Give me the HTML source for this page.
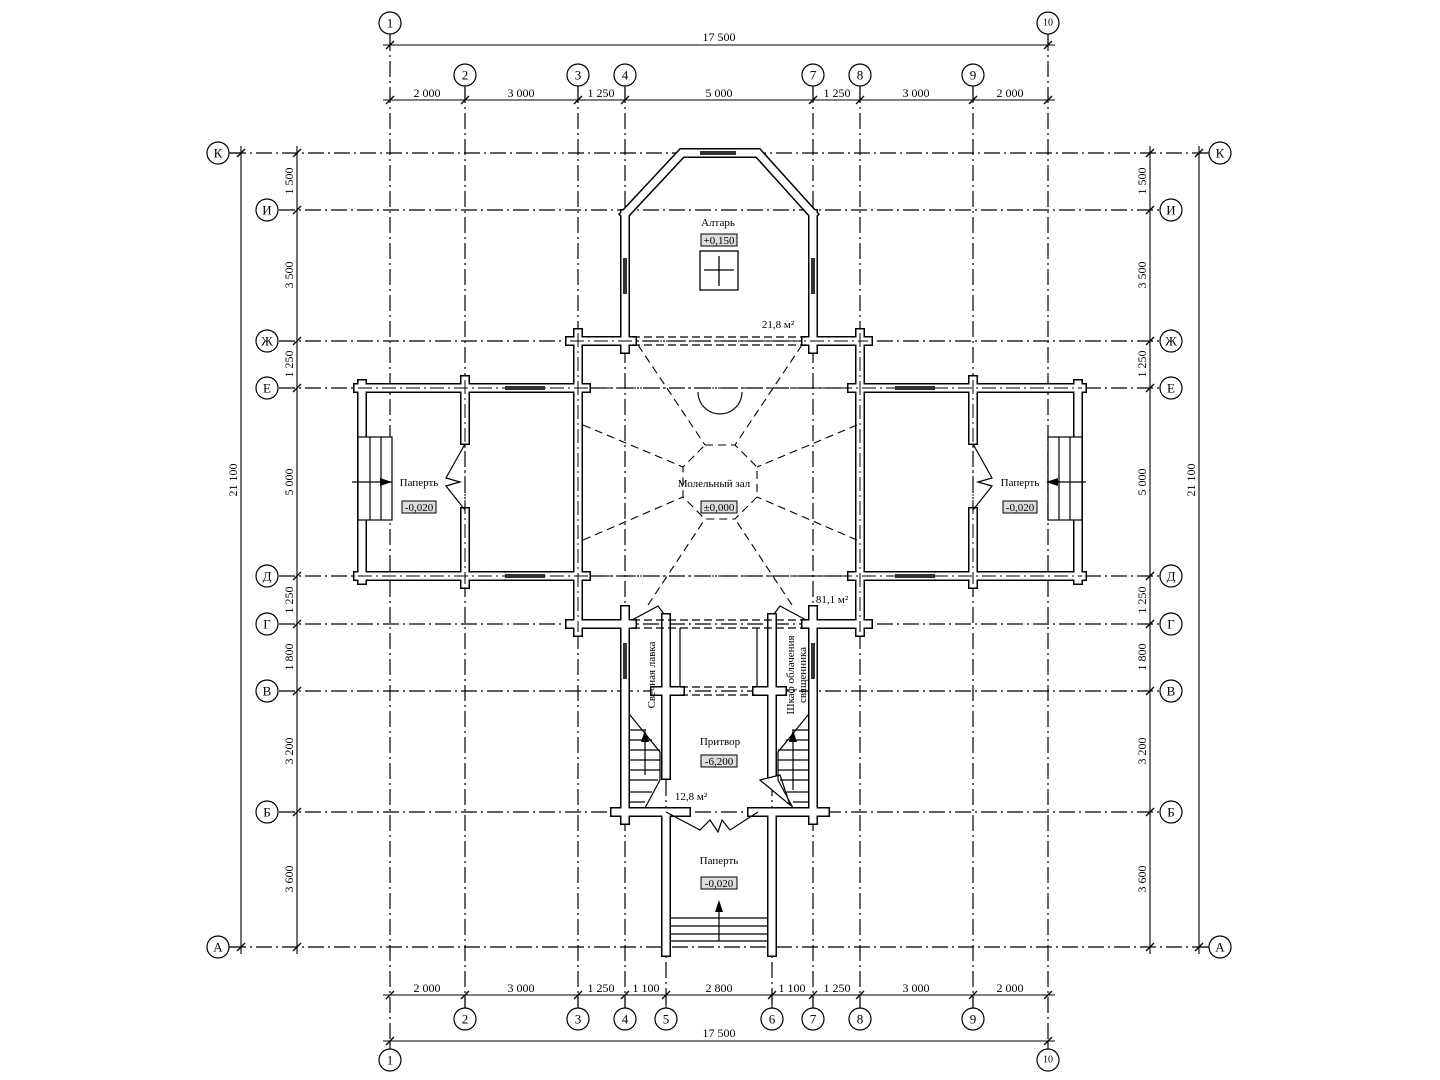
<!DOCTYPE html>
<html><head><meta charset="utf-8"><style>
html,body{margin:0;padding:0;background:#fff;}
svg{display:block;font-family:"Liberation Serif",serif;}
</style></head><body>
<svg width="1440" height="1080" viewBox="0 0 1440 1080" xmlns="http://www.w3.org/2000/svg">
<defs>
<path id="walls" d="
M570,341H632 M806,341H868
M358,388H586 M852,388H1082
M358,576H586 M852,576H1082
M570,624H632 M806,624H868
M655,691H680 M757,691H782
M615,812H686 M752,812H825
M625,214V349 M813,214V349
M625,610V820 M813,610V820
M578,333V632 M860,333V632
M465,380V440 M465,512V584
M973,380V440 M973,512V584
M362,384V580 M1078,384V580
M666,618V775 M666,812V952
M772,618V775 M772,812V952
M625,214L682,153H758L813,214"/>
</defs>
<g fill="none" stroke="#000">
<!-- grid axes -->
<g stroke-width="1.2" stroke-dasharray="16 4 2 4">
<line x1="390" y1="35" x2="390" y2="1050"/>
<line x1="1048" y1="35" x2="1048" y2="1050"/>
<line x1="465" y1="87" x2="465" y2="1008"/>
<line x1="578" y1="87" x2="578" y2="1008"/>
<line x1="625" y1="87" x2="625" y2="1008"/>
<line x1="666" y1="780" x2="666" y2="1008"/>
<line x1="772" y1="780" x2="772" y2="1008"/>
<line x1="813" y1="87" x2="813" y2="1008"/>
<line x1="860" y1="87" x2="860" y2="1008"/>
<line x1="973" y1="87" x2="973" y2="1008"/>
<line x1="230" y1="153" x2="1208" y2="153"/>
<line x1="230" y1="947" x2="1208" y2="947"/>
<line x1="279" y1="210" x2="1159" y2="210"/>
<line x1="279" y1="341" x2="1159" y2="341"/>
<line x1="279" y1="388" x2="1159" y2="388"/>
<line x1="279" y1="576" x2="1159" y2="576"/>
<line x1="279" y1="624" x2="1159" y2="624"/>
<line x1="279" y1="691" x2="1159" y2="691"/>
<line x1="279" y1="812" x2="1159" y2="812"/>
</g>
<!-- walls -->
<use href="#walls" stroke="#000" stroke-width="10" stroke-linecap="square"/>
<use href="#walls" stroke="#fff" stroke-width="7" stroke-linecap="square"/>
<g stroke-width="1" stroke-dasharray="14 4 2 4">
<line x1="570" y1="341" x2="868" y2="341"/>
<line x1="358" y1="388" x2="1082" y2="388"/>
<line x1="358" y1="576" x2="1082" y2="576"/>
<line x1="578" y1="333" x2="578" y2="632"/>
<line x1="860" y1="333" x2="860" y2="632"/>
<line x1="465" y1="380" x2="465" y2="584"/>
<line x1="973" y1="380" x2="973" y2="584"/>
</g>
<!-- beams dashed double -->
<g stroke-width="1.2" stroke-dasharray="8 4">
<path d="M632,337H806M632,345H806"/>
<path d="M632,620H806M632,628H806"/>
<path d="M680,687H757M680,695H757"/>
</g>
<line x1="680" y1="628" x2="680" y2="687" stroke-width="1.2"/>
<line x1="757" y1="628" x2="757" y2="687" stroke-width="1.2"/>
<!-- windows -->
<g fill="#333" stroke="none">
<rect x="505" y="386" width="40" height="4"/><rect x="895" y="386" width="40" height="4"/>
<rect x="505" y="574" width="40" height="4"/><rect x="895" y="574" width="40" height="4"/>
<rect x="623" y="258" width="4" height="36"/><rect x="811" y="258" width="4" height="36"/>
<rect x="700" y="151" width="36" height="4"/>
<rect x="623" y="643" width="4" height="36"/><rect x="811" y="643" width="4" height="36"/>
</g>
<!-- center dashed -->
<g stroke-width="1.1" stroke-dasharray="8 5">
<polygon points="705,445 735,445 757,467 757,497 735,519 705,519 683,497 683,467"/>
<line x1="638" y1="345" x2="705" y2="445"/>
<line x1="802" y1="345" x2="735" y2="445"/>
<line x1="583" y1="425" x2="683" y2="467"/>
<line x1="857" y1="425" x2="757" y2="467"/>
<line x1="583" y1="540" x2="683" y2="497"/>
<line x1="857" y1="540" x2="757" y2="497"/>
<line x1="648" y1="605" x2="705" y2="519"/>
<line x1="792" y1="605" x2="735" y2="519"/>
</g>
<path d="M698,392A22,22 0 0 0 742,392" stroke-width="1.1"/>
<!-- doors -->
<g stroke-width="1.2">
<polyline points="465,444 446,478 460,482 446,486 465,510"/>
<polyline points="973,444 992,478 978,482 992,486 973,510"/>
<polyline points="666,812 700,830 710,820 718,832 722,820 730,830 758,812"/>
<polyline points="632,620 658,606 664,614"/>
<polyline points="806,620 780,606 774,614"/>
<path d="M760,780 L780,775 L790,805 Z" fill="#fff"/>
</g>
<!-- stairs -->
<g stroke-width="1.2">
<rect x="358" y="437" width="34" height="83" fill="#fff"/>
<line x1="370" y1="437" x2="370" y2="520"/><line x1="381" y1="437" x2="381" y2="520"/>
<line x1="352" y1="482" x2="392" y2="482"/>
<rect x="1048" y="437" width="34" height="83" fill="#fff"/>
<line x1="1059" y1="437" x2="1059" y2="520"/><line x1="1070" y1="437" x2="1070" y2="520"/>
<line x1="1048" y1="482" x2="1086" y2="482"/>
<line x1="670" y1="918" x2="768" y2="918"/><line x1="670" y1="926" x2="768" y2="926"/>
<line x1="670" y1="934" x2="768" y2="934"/><line x1="670" y1="941" x2="768" y2="941"/>
<line x1="719" y1="941" x2="719" y2="903"/>
<!-- left tambour stairs -->
<path d="M630,715 L660,752 L660,780 L645,808 M630,730H646 M630,740H652 M630,750H660 M630,760H660 M630,770H660 M630,780H658 M630,792H652 M630,802H645 M645,732V775"/>
<path d="M808,715 L778,752 L778,780 L793,808 M808,730H792 M808,740H786 M808,750H778 M808,760H778 M808,770H778 M808,780H780 M808,792H786 M808,802H793 M793,732V790"/>
</g>
<g fill="#000" stroke="none">
<polygon points="380,478 392,482 380,486"/><polygon points="1058,478 1046,482 1058,486"/>
<polygon points="715,912 719,900 723,912"/>
<polygon points="641,742 645,730 649,742"/><polygon points="789,742 793,730 797,742"/>
</g>
<!-- altar cross -->
<rect x="700" y="251" width="38" height="39" stroke-width="1.3"/>
<line x1="719" y1="256" x2="719" y2="286" stroke-width="1.3"/>
<line x1="704" y1="270" x2="734" y2="270" stroke-width="1.3"/>
<!-- elevation boxes -->
<g fill="#ddd" stroke-width="1">
<rect x="701" y="234" width="36" height="12"/>
<rect x="701" y="501" width="36" height="12"/>
<rect x="402" y="501" width="34" height="12"/>
<rect x="1003" y="501" width="34" height="12"/>
<rect x="701" y="755" width="36" height="12"/>
<rect x="701" y="877" width="36" height="12"/>
</g>
<!-- dimension lines -->
<g stroke-width="1.1">
<line x1="383" y1="45" x2="1055" y2="45"/>
<line x1="383" y1="100" x2="1055" y2="100"/>
<line x1="383" y1="995" x2="1055" y2="995"/>
<line x1="383" y1="1041" x2="1055" y2="1041"/>
<line x1="241" y1="146" x2="241" y2="954"/>
<line x1="297" y1="146" x2="297" y2="954"/>
<line x1="1150" y1="146" x2="1150" y2="954"/>
<line x1="1199" y1="146" x2="1199" y2="954"/>
<line x1="390" y1="34" x2="390" y2="45"/><line x1="1048" y1="34" x2="1048" y2="45"/>
<line x1="390" y1="1041" x2="390" y2="1049"/><line x1="1048" y1="1041" x2="1048" y2="1049"/>
<line x1="229" y1="153" x2="241" y2="153"/><line x1="229" y1="947" x2="241" y2="947"/>
<line x1="1199" y1="153" x2="1209" y2="153"/><line x1="1199" y1="947" x2="1209" y2="947"/>
<line x1="465" y1="86" x2="465" y2="100"/><line x1="578" y1="86" x2="578" y2="100"/><line x1="625" y1="86" x2="625" y2="100"/>
<line x1="813" y1="86" x2="813" y2="100"/><line x1="860" y1="86" x2="860" y2="100"/><line x1="973" y1="86" x2="973" y2="100"/>
<line x1="465" y1="995" x2="465" y2="1008"/><line x1="578" y1="995" x2="578" y2="1008"/><line x1="625" y1="995" x2="625" y2="1008"/>
<line x1="666" y1="995" x2="666" y2="1008"/><line x1="772" y1="995" x2="772" y2="1008"/>
<line x1="813" y1="995" x2="813" y2="1008"/><line x1="860" y1="995" x2="860" y2="1008"/><line x1="973" y1="995" x2="973" y2="1008"/>
</g>
<!-- ticks -->
<g stroke-width="1.3">
<path d="M386,49l8,-8 M1044,49l8,-8 M386,1045l8,-8 M1044,1045l8,-8
M386,104l8,-8 M461,104l8,-8 M574,104l8,-8 M621,104l8,-8 M809,104l8,-8 M856,104l8,-8 M969,104l8,-8 M1044,104l8,-8
M386,999l8,-8 M461,999l8,-8 M574,999l8,-8 M621,999l8,-8 M662,999l8,-8 M768,999l8,-8 M809,999l8,-8 M856,999l8,-8 M969,999l8,-8 M1044,999l8,-8
M237,157l8,-8 M237,951l8,-8 M1195,157l8,-8 M1195,951l8,-8
M293,157l8,-8 M293,214l8,-8 M293,345l8,-8 M293,392l8,-8 M293,580l8,-8 M293,628l8,-8 M293,695l8,-8 M293,816l8,-8 M293,951l8,-8
M1146,157l8,-8 M1146,214l8,-8 M1146,345l8,-8 M1146,392l8,-8 M1146,580l8,-8 M1146,628l8,-8 M1146,695l8,-8 M1146,816l8,-8 M1146,951l8,-8"/>
</g>
<!-- axis circles -->
<g stroke-width="1.2" fill="#fff">
<circle cx="390" cy="23" r="11"/><circle cx="1048" cy="23" r="11"/>
<circle cx="465" cy="75" r="11"/><circle cx="578" cy="75" r="11"/><circle cx="625" cy="75" r="11"/>
<circle cx="813" cy="75" r="11"/><circle cx="860" cy="75" r="11"/><circle cx="973" cy="75" r="11"/>
<circle cx="465" cy="1019" r="11"/><circle cx="578" cy="1019" r="11"/><circle cx="625" cy="1019" r="11"/>
<circle cx="666" cy="1019" r="11"/><circle cx="772" cy="1019" r="11"/>
<circle cx="813" cy="1019" r="11"/><circle cx="860" cy="1019" r="11"/><circle cx="973" cy="1019" r="11"/>
<circle cx="390" cy="1060" r="11"/><circle cx="1048" cy="1060" r="11"/>
<circle cx="218" cy="153" r="11"/><circle cx="218" cy="947" r="11"/>
<circle cx="1220" cy="153" r="11"/><circle cx="1220" cy="947" r="11"/>
<circle cx="267" cy="210" r="11"/><circle cx="267" cy="341" r="11"/><circle cx="267" cy="388" r="11"/><circle cx="267" cy="576" r="11"/>
<circle cx="267" cy="624" r="11"/><circle cx="267" cy="691" r="11"/><circle cx="267" cy="812" r="11"/>
<circle cx="1171" cy="210" r="11"/><circle cx="1171" cy="341" r="11"/><circle cx="1171" cy="388" r="11"/><circle cx="1171" cy="576" r="11"/>
<circle cx="1171" cy="624" r="11"/><circle cx="1171" cy="691" r="11"/><circle cx="1171" cy="812" r="11"/>
</g>
</g>
<g font-size="13" text-anchor="middle" fill="#000" dominant-baseline="central">
<text x="390" y="23">1</text><text x="1048" y="23" font-size="10">10</text>
<text x="465" y="75">2</text><text x="578" y="75">3</text><text x="625" y="75">4</text>
<text x="813" y="75">7</text><text x="860" y="75">8</text><text x="973" y="75">9</text>
<text x="465" y="1019">2</text><text x="578" y="1019">3</text><text x="625" y="1019">4</text>
<text x="666" y="1019">5</text><text x="772" y="1019">6</text>
<text x="813" y="1019">7</text><text x="860" y="1019">8</text><text x="973" y="1019">9</text>
<text x="390" y="1060">1</text><text x="1048" y="1060" font-size="10">10</text>
<text x="218" y="153">К</text><text x="218" y="947">А</text>
<text x="1220" y="153">К</text><text x="1220" y="947">А</text>
<text x="267" y="210">И</text><text x="267" y="341">Ж</text><text x="267" y="388">Е</text><text x="267" y="576">Д</text>
<text x="267" y="624">Г</text><text x="267" y="691">В</text><text x="267" y="812">Б</text>
<text x="1171" y="210">И</text><text x="1171" y="341">Ж</text><text x="1171" y="388">Е</text><text x="1171" y="576">Д</text>
<text x="1171" y="624">Г</text><text x="1171" y="691">В</text><text x="1171" y="812">Б</text>
</g>
<g font-size="12" text-anchor="middle" fill="#000">
<text x="719" y="41">17 500</text><text x="719" y="1037">17 500</text>
<text x="427" y="101" dy="-4">2 000</text><text x="521" y="97">3 000</text><text x="601" y="97">1 250</text>
<text x="719" y="97">5 000</text><text x="837" y="97">1 250</text><text x="916" y="97">3 000</text><text x="1010" y="97">2 000</text>
<text x="427" y="992">2 000</text><text x="521" y="992">3 000</text><text x="601" y="992">1 250</text><text x="646" y="992">1 100</text>
<text x="719" y="992">2 800</text><text x="792" y="992">1 100</text><text x="837" y="992">1 250</text><text x="916" y="992">3 000</text><text x="1010" y="992">2 000</text>
<text transform="translate(237,480) rotate(-90)">21 100</text>
<text transform="translate(1195,480) rotate(-90)">21 100</text>
<text transform="translate(293,181) rotate(-90)">1 500</text><text transform="translate(293,275) rotate(-90)">3 500</text>
<text transform="translate(293,364) rotate(-90)">1 250</text><text transform="translate(293,482) rotate(-90)">5 000</text>
<text transform="translate(293,600) rotate(-90)">1 250</text><text transform="translate(293,657) rotate(-90)">1 800</text>
<text transform="translate(293,751) rotate(-90)">3 200</text><text transform="translate(293,879) rotate(-90)">3 600</text>
<text transform="translate(1146,181) rotate(-90)">1 500</text><text transform="translate(1146,275) rotate(-90)">3 500</text>
<text transform="translate(1146,364) rotate(-90)">1 250</text><text transform="translate(1146,482) rotate(-90)">5 000</text>
<text transform="translate(1146,600) rotate(-90)">1 250</text><text transform="translate(1146,657) rotate(-90)">1 800</text>
<text transform="translate(1146,751) rotate(-90)">3 200</text><text transform="translate(1146,879) rotate(-90)">3 600</text>
</g>
<g font-size="11" text-anchor="middle" fill="#000">
<text x="718" y="226">Алтарь</text><text x="719" y="244">+0,150</text>
<text x="778" y="328">21,8 м²</text>
<text x="714" y="487">Молельный зал</text><text x="719" y="511">±0,000</text>
<text x="419" y="486">Паперть</text><text x="419" y="511">-0,020</text>
<text x="1020" y="486">Паперть</text><text x="1020" y="511">-0,020</text>
<text x="832" y="603">81,1 м²</text>
<text transform="translate(655,675) rotate(-90)">Свечная лавка</text>
<text transform="translate(794,675) rotate(-90)">Шкаф облачения</text>
<text transform="translate(806,675) rotate(-90)">священника</text>
<text x="720" y="745">Притвор</text><text x="719" y="765">-6,200</text>
<text x="691" y="800">12,8 м²</text>
<text x="719" y="864">Паперть</text><text x="719" y="887">-0,020</text>
</g>
</svg>
</body></html>
